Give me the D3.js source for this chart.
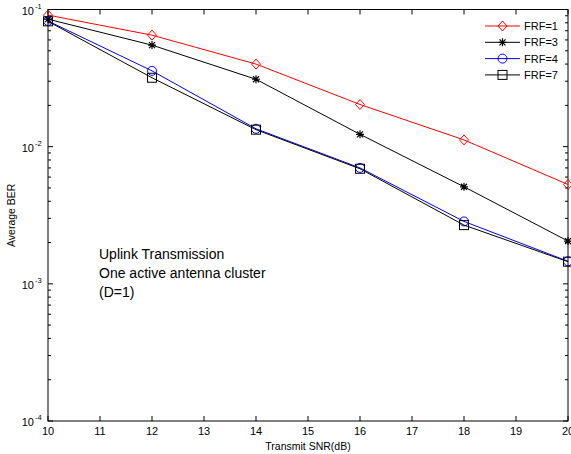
<!DOCTYPE html>
<html lang="en">
<head>
<meta charset="UTF-8">
<title>Average BER vs Transmit SNR</title>
<script src="https://d3js.org/d3.v7.min.js"></script>
<style>
  body { margin: 0; background: #fff; }
  text { font-family: Arial, "Liberation Sans", sans-serif; }
</style>
</head>
<body>
<svg id="chart" width="571" height="454"></svg>
<script>
// data
const snr = [10, 12, 14, 16, 18, 20];
const frf1 = [0.091, 0.065, 0.040, 0.0203, 0.0112, 0.0053];
const frf3 = [0.085, 0.055, 0.031, 0.0123, 0.0051, 0.00205];
const frf4 = [0.0825, 0.0357, 0.0135, 0.0070, 0.00285, 0.00146];
const frf7 = [0.082, 0.0318, 0.0133, 0.0069, 0.00268, 0.00145];
const xTicks = [10, 11, 12, 13, 14, 15, 16, 17, 18, 19, 20];
const yDecades = [-4, -3, -2, -1];
const seriesNames = ["FRF=1", "FRF=3", "FRF=4", "FRF=7"];
const seriesColors = ["#ff0000", "#000000", "#0000ff", "#000000"];
const seriesMarkers = ["diamond", "star", "circle", "square"];
const noteLines = ["Uplink Transmission", "One active antenna cluster", "(D=1)"];

const series = [frf1, frf3, frf4, frf7].map((vals, i) => ({
  name: seriesNames[i], color: seriesColors[i], marker: seriesMarkers[i],
  points: snr.map((s, j) => ({ x: s, y: vals[j] }))
}));

const plotL = 48, plotR = 568, plotT = 9.5, plotB = 421;
const svg = d3.select("#chart");

const x = d3.scaleLinear().domain([10, 20]).range([plotL, plotR]);
const y = d3.scaleLog().domain([1e-4, 1e-1]).range([plotB, plotT]);

// minor ticks for log axis
const minor = [];
yDecades.slice(0, 3).forEach(e => {
  for (let k = 2; k <= 9; k++) minor.push(k * Math.pow(10, e));
});

const axes = svg.append("g").attr("stroke", "#000").attr("stroke-width", 1);

// x ticks bottom and top (inward)
xTicks.forEach(t => {
  axes.append("line").attr("x1", x(t)).attr("x2", x(t)).attr("y1", plotB).attr("y2", plotB - 5);
  axes.append("line").attr("x1", x(t)).attr("x2", x(t)).attr("y1", plotT).attr("y2", plotT + 5);
});
// y ticks left and right
yDecades.forEach(e => {
  const v = Math.pow(10, e);
  axes.append("line").attr("x1", plotL).attr("x2", plotL + 5).attr("y1", y(v)).attr("y2", y(v));
  axes.append("line").attr("x1", plotR).attr("x2", plotR - 5).attr("y1", y(v)).attr("y2", y(v));
});
minor.forEach(v => {
  axes.append("line").attr("x1", plotL).attr("x2", plotL + 3).attr("y1", y(v)).attr("y2", y(v));
  axes.append("line").attr("x1", plotR).attr("x2", plotR - 3).attr("y1", y(v)).attr("y2", y(v));
});

// frame
svg.append("rect").attr("x", plotL).attr("y", plotT)
  .attr("width", plotR - plotL).attr("height", plotB - plotT)
  .attr("fill", "none").attr("stroke", "#000").attr("stroke-width", 1);

// x tick labels
svg.append("g").selectAll("text").data(xTicks).join("text")
  .attr("x", d => x(d)).attr("y", plotB + 14)
  .attr("text-anchor", "middle").attr("font-size", 11).text(d => d);

// y tick labels 10^e
const yl = svg.append("g").selectAll("g").data(yDecades).join("g")
  .attr("transform", d => `translate(${plotL - 9},${y(Math.pow(10, d)) + 5})`);
yl.append("text").attr("text-anchor", "end").attr("x", -5).attr("font-size", 11).text("10");
yl.append("text").attr("x", -4).attr("y", -6).attr("font-size", 7.5).text(d => d);

// axis titles
svg.append("text").attr("x", (plotL + plotR) / 2).attr("y", 450)
  .attr("text-anchor", "middle").attr("font-size", 10.5).text("Transmit SNR(dB)");
svg.append("text").attr("transform", `translate(15,${(plotT + plotB) / 2}) rotate(-90)`)
  .attr("text-anchor", "middle").attr("font-size", 10.5).text("Average BER");

// marker drawing
function drawMarker(g, type, color) {
  if (type === "diamond") {
    g.append("path").attr("d", "M0,-5L4.5,0L0,5L-4.5,0Z").attr("fill", "none").attr("stroke", color);
  } else if (type === "circle") {
    g.append("circle").attr("r", 4.5).attr("fill", "none").attr("stroke", color);
  } else if (type === "square") {
    g.append("rect").attr("x", -4.5).attr("y", -4.5).attr("width", 9).attr("height", 9)
      .attr("fill", "none").attr("stroke", color);
  } else if (type === "star") {
    g.append("path").attr("d", "M-4,0H4M0,-4V4M-3,-3L3,3M-3,3L3,-3")
      .attr("stroke", color).attr("stroke-width", 1.2);
  }
}

const line = d3.line().x(d => x(d.x)).y(d => y(d.y));
const plot = svg.append("g");
series.forEach(s => {
  plot.append("path").datum(s.points).attr("d", line)
    .attr("fill", "none").attr("stroke", s.color).attr("stroke-width", 1);
  s.points.forEach(p => {
    drawMarker(plot.append("g").attr("transform", `translate(${x(p.x)},${y(p.y)})`), s.marker, s.color);
  });
});

// legend
const lg = svg.append("g");
series.forEach((s, i) => {
  const ly = 26 + i * 16.3;
  lg.append("line").attr("x1", 485).attr("x2", 520).attr("y1", ly).attr("y2", ly)
    .attr("stroke", s.color).attr("stroke-width", 1);
  drawMarker(lg.append("g").attr("transform", `translate(502.5,${ly})`), s.marker, s.color);
  lg.append("text").attr("x", 524).attr("y", ly + 4).attr("font-size", 11).text(s.name);
});

// annotation
svg.append("g").selectAll("text").data(noteLines).join("text")
  .attr("x", 99).attr("y", (d, i) => 259 + i * 19)
  .attr("font-size", 14).text(d => d);
</script>
</body>
</html>
